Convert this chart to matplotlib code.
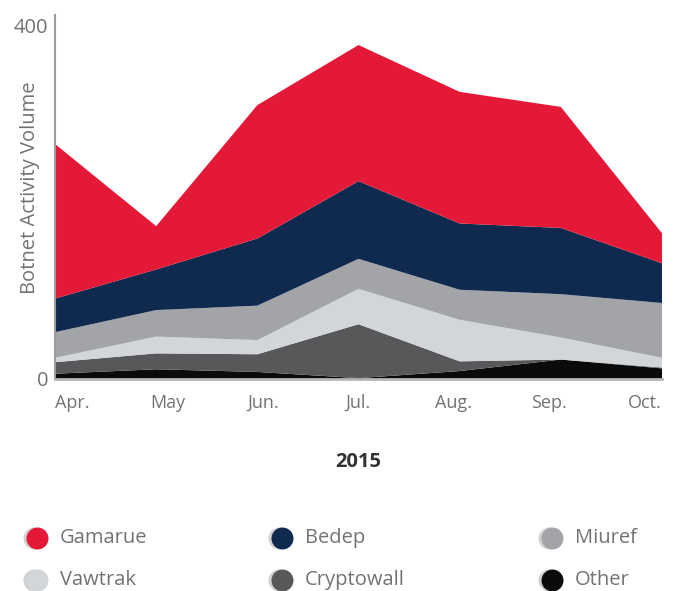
import numpy as np
import matplotlib.pyplot as plt

# data (stacked, bottom to top)
months = ['Apr.', 'May', 'Jun.', 'Jul.', 'Aug.', 'Sep.', 'Oct.']
other = [6, 11, 8, 1, 9, 22, 12]
cryptowall = [13, 18, 20, 61, 11, 0, 1]
vawtrak = [5, 19, 16, 40, 47, 25, 11]
miuref = [29, 30, 39, 34, 34, 49, 62]
bedep = [38, 46, 76, 88, 75, 75, 45]
gamarue = [175, 49, 151, 154, 149, 137, 34]

names = ['Other', 'Cryptowall', 'Vawtrak', 'Miuref', 'Bedep', 'Gamarue']
colors = ['#0b0b0b', '#58585a', '#d2d6d9', '#a3a4a8', '#102a4f', '#e31937']

plt.rcParams['font.family'] = ['Open Sans', 'DejaVu Sans']
grey_txt = '#727272'

fig = plt.figure(figsize=(6.76, 5.91), dpi=100)
ax = fig.add_axes([55 / 676, 1 - 379 / 591, (662 - 55) / 676, (379 - 15) / 591])

x = np.arange(len(months))
ax.stackplot(x, other, cryptowall, vawtrak, miuref, bedep, gamarue,
             colors=colors, linewidth=0)
ax.set_xlim(0, len(months) - 1)
ax.set_ylim(0, 412)
ax.set_yticks([0, 400])
ax.set_yticklabels(['0', '400'], fontsize=14.5, color=grey_txt)
# month labels are spread evenly inside the plot width, not under the points
ax.set_xticks(np.linspace(0.17, 5.83, len(months)))
ax.set_xticklabels(months, fontsize=13, color=grey_txt)
ax.tick_params(length=0, pad=5)
ax.tick_params(axis='x', pad=11)
ax.set_ylabel('Botnet Activity Volume', fontsize=14.5, color=grey_txt)
ax.yaxis.set_label_coords(-0.025, 0.525)
for s in ['top', 'right']:
    ax.spines[s].set_visible(False)
ax.spines['left'].set_color('#9b9b9b')
ax.spines['left'].set_linewidth(1.5)
ax.spines['bottom'].set_color('#b5b5b5')
ax.spines['bottom'].set_linewidth(2)

fig.text(358 / 676, 1 - 462 / 591, '2015', ha='center', va='center',
         fontsize=14.5, fontweight='bold', color='#333333')

# legend drawn in pixel space
lg = fig.add_axes([0, 0, 1, 1], zorder=-1)
lg.set_xlim(0, 676)
lg.set_ylim(591, 0)
lg.axis('off')
order = ['Gamarue', 'Bedep', 'Miuref', 'Vawtrak', 'Cryptowall', 'Other']
col_x = [37, 282, 552]
row_y = [538, 580]
for i, n in enumerate(order):
    cx = col_x[i % 3]
    cy = row_y[i // 3]
    c = colors[names.index(n)]
    lg.scatter([cx - 3], [cy], s=250, color='#d0d0d0', linewidths=0)
    lg.scatter([cx], [cy], s=250, color=c, linewidths=0)
    lg.text(cx + 23, cy, n, va='center', ha='left', fontsize=14.5,
            color=grey_txt)

fig.savefig('out.png', dpi=100)
